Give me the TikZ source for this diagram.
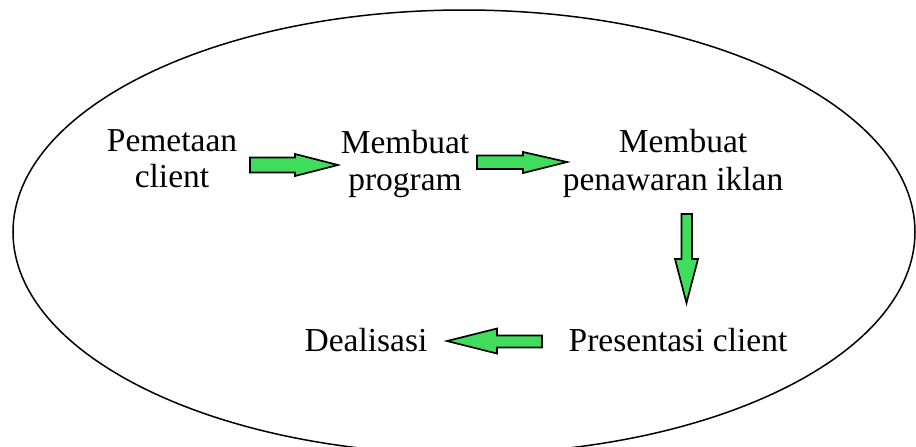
\documentclass[tikz,border=0pt]{standalone}
\usepackage{fontspec}
\setmainfont{Liberation Serif}
\definecolor{arrowgreen}{RGB}{64,220,92}
\begin{document}
\begin{tikzpicture}[x=1pt,y=-1pt,
  lbl/.style={anchor=base,inner sep=0pt,font=\fontsize{33.5}{37}\selectfont},
  blockarrow/.style={draw=black,fill=arrowgreen,line width=1.7pt,line join=miter}]
\useasboundingbox (0,0) rectangle (916,447);
\fill[white] (0,0) rectangle (916,447);
\begin{scope}
\clip (0,0) rectangle (916,447);
\draw[line width=1.5pt] (464,232) ellipse [x radius=451, y radius=222];
\end{scope}
% texts
\node[lbl] (pa) at (172,151) {Pemetaan};
\node[lbl] (pb) at (172,187) {client};
\node[lbl] (ma) at (405,153) {Membuat};
\node[lbl] (mb) at (405,190) {program};
\node[lbl] (na) at (683,152) {Membuat};
\node[lbl] (nb) at (673,190) {penawaran iklan};
\node[lbl] (d) at (366,351) {Dealisasi};
\node[lbl] (pc) at (678,351) {Presentasi client};
% arrow 1
\draw[blockarrow] (250,157.5) -- (295,157.5) -- (295,154) -- (338,165) -- (295,176) -- (295,172.5) -- (250,172.5) -- cycle;
% arrow 2
\draw[blockarrow] (477,155.5) -- (523,155.5) -- (523,152) -- (567,162) -- (523,173) -- (523,169) -- (477,169) -- cycle;
% down arrow
\draw[blockarrow] (681.5,214) -- (692,214) -- (692,259) -- (698,259) -- (686.5,303) -- (675,259) -- (681.5,259) -- cycle;
% left arrow
\draw[blockarrow] (542,335.5) -- (497,335.5) -- (497,328.5) -- (447,341) -- (497,353.5) -- (497,347.5) -- (542,347.5) -- cycle;
\end{tikzpicture}
\end{document}
